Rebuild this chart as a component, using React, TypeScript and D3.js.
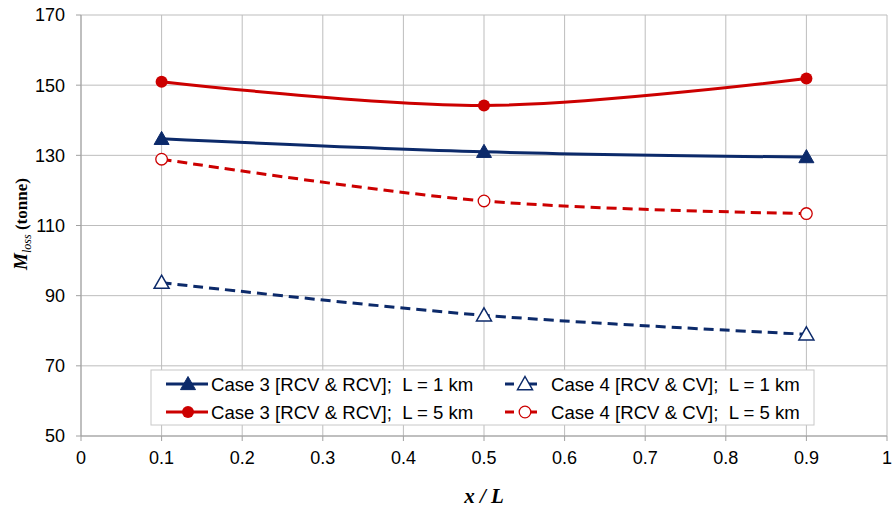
import React from "react";
import * as d3 from "d3";

const xPositions = [0.1, 0.5, 0.9];
const case3L1 = [134.7, 131.0, 129.5];
const case3L5 = [151.0, 144.2, 151.9];
const case4L1 = [93.7, 84.4, 79.0];
const case4L5 = [128.9, 117.0, 113.4];
const xTicks = [0, 0.1, 0.2, 0.3, 0.4, 0.5, 0.6, 0.7, 0.8, 0.9, 1];
const yTicks = [50, 70, 90, 110, 130, 150, 170];
const legendLabels = [
  "Case 3 [RCV & RCV];\u00a0 L = 1 km",
  "Case 4 [RCV & CV];\u00a0 L = 1 km",
  "Case 3 [RCV & RCV];\u00a0 L = 5 km",
  "Case 4 [RCV & CV];\u00a0 L = 5 km",
];

const BLUE = "#0c2a6a";
const RED = "#cc0000";

const W = 892, H = 510;
const M = { left: 81, right: 5, top: 15, bottom: 74 };

type Marker = "triFill" | "triOpen" | "circFill" | "circOpen";

function MarkerShape({ type, x, y, color }: { type: Marker; x: number; y: number; color: string }) {
  if (type === "triFill" || type === "triOpen") {
    const s = 7.5;
    const p = `M${x},${y - s} L${x + s},${y + s * 0.75} L${x - s},${y + s * 0.75} Z`;
    return type === "triFill" ? (
      <path d={p} fill={color} stroke={color} strokeWidth={1} />
    ) : (
      <path d={p} fill="#fff" stroke={color} strokeWidth={1.5} />
    );
  }
  return type === "circFill" ? (
    <circle cx={x} cy={y} r={6} fill={color} />
  ) : (
    <circle cx={x} cy={y} r={5.8} fill="#fff" stroke={color} strokeWidth={1.3} />
  );
}

export default function App() {
  const x = d3.scaleLinear().domain([0, 1]).range([M.left, W - M.right]);
  const y = d3.scaleLinear().domain([50, 170]).range([H - M.bottom, M.top]);

  const line = d3
    .line<number>()
    .x((_, i) => x(xPositions[i]))
    .y((d) => y(d))
    .curve(d3.curveCatmullRom.alpha(0.5));

  const series = [
    { data: case3L1, color: BLUE, dash: undefined, marker: "triFill" as Marker },
    { data: case4L1, color: BLUE, dash: "10,6", marker: "triOpen" as Marker },
    { data: case3L5, color: RED, dash: undefined, marker: "circFill" as Marker },
    { data: case4L5, color: RED, dash: "10,6", marker: "circOpen" as Marker },
  ];

  const legX = [166, 505];
  const legTextX = [211, 551];
  const legY = [384, 412];

  return (
    <svg
      width={W}
      height={H}
      style={{ position: "absolute", left: 0, top: 0, background: "#fff" }}
      fontFamily="'Liberation Sans', Arial, sans-serif"
    >
      {/* grid */}
      {xTicks.map((t) => (
        <line key={"gx" + t} x1={x(t)} x2={x(t)} y1={y(50)} y2={y(170)} stroke="#bdbdbd" strokeWidth={1} />
      ))}
      {yTicks.map((t) => (
        <line key={"gy" + t} x1={x(0)} x2={x(1)} y1={y(t)} y2={y(t)} stroke="#bdbdbd" strokeWidth={1} />
      ))}
      {/* axes */}
      <line x1={x(0)} x2={x(0)} y1={y(50)} y2={y(170)} stroke="#a0a0a0" />
      <line x1={x(0)} x2={x(1)} y1={y(50)} y2={y(50)} stroke="#a0a0a0" />
      {yTicks.map((t) => (
        <g key={"yt" + t}>
          <line x1={x(0) - 5} x2={x(0)} y1={y(t)} y2={y(t)} stroke="#a0a0a0" />
          <text x={x(0) - 16} y={y(t)} dy="0.36em" textAnchor="end" fontSize={18} fill="#000">
            {t}
          </text>
        </g>
      ))}
      {xTicks.map((t) => (
        <g key={"xt" + t}>
          <line x1={x(t)} x2={x(t)} y1={y(50)} y2={y(50) + 5} stroke="#a0a0a0" />
          <text x={x(t)} y={y(50) + 28} textAnchor="middle" fontSize={18} fill="#000">
            {t}
          </text>
        </g>
      ))}
      {/* series */}
      {series.map((s, si) => (
        <g key={"s" + si}>
          <path d={line(s.data) || ""} fill="none" stroke={s.color} strokeWidth={3} strokeDasharray={s.dash} />
          {s.data.map((v, i) => (
            <MarkerShape key={i} type={s.marker} x={x(xPositions[i])} y={y(v)} color={s.color} />
          ))}
        </g>
      ))}
      {/* legend */}
      <rect x={151} y={370} width={663} height={55} fill="#fff" stroke="#c8c8c8" strokeWidth={1} />
      {series.map((s, si) => {
        const col = si % 2;
        const row = Math.floor(si / 2);
        const lx = legX[col];
        const ly = legY[row];
        const len = col === 0 ? 42 : 32;
        return (
          <g key={"l" + si}>
            {s.dash ? (
              <>
                <line x1={lx} x2={lx + 9} y1={ly} y2={ly} stroke={s.color} strokeWidth={3} />
                <line x1={lx + len - 9} x2={lx + len} y1={ly} y2={ly} stroke={s.color} strokeWidth={3} />
              </>
            ) : (
              <line x1={lx} x2={lx + len} y1={ly} y2={ly} stroke={s.color} strokeWidth={3} />
            )}
            <MarkerShape type={s.marker} x={lx + (col === 0 ? 22 : 20)} y={ly} color={s.color} />
            <text x={legTextX[col]} y={ly} dy="0.36em" fontSize={18.6} fill="#000">
              {legendLabels[si]}
            </text>
          </g>
        );
      })}
      {/* axis titles */}
      <text
        x={(x(0) + x(1)) / 2}
        y={503}
        textAnchor="middle"
        fontFamily="'Liberation Serif', 'Times New Roman', serif"
        fontWeight="bold"
        fontStyle="italic"
        fontSize={21}
      >
        x / L
      </text>
      <text
        transform={`translate(27, 224) rotate(-90)`}
        textAnchor="middle"
        fontFamily="'Liberation Serif', 'Times New Roman', serif"
        fontWeight="bold"
        fontSize={17}
      >
        <tspan fontStyle="italic" fontSize={19}>M</tspan>
        <tspan fontStyle="italic" fontWeight="normal" fontSize={12} dy={4}>loss</tspan>
        <tspan dy={-4}> (tonne)</tspan>
      </text>
    </svg>
  );
}
